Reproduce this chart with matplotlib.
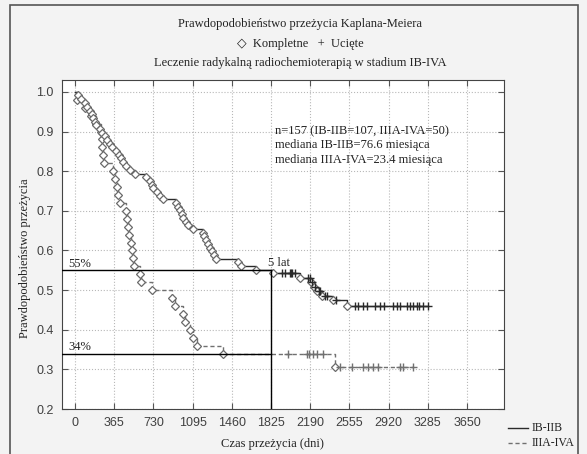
import matplotlib
matplotlib.use('Agg')
import matplotlib.pyplot as plt
import numpy as np

# IB-IIB: event times (days) and survival after each event
ib_event_t = [28, 60, 93, 115, 140, 155, 170, 186, 200, 233, 250, 279, 300, 326, 350,
              382, 410, 428, 450, 475, 510, 559,
              661, 698, 717, 726, 760, 791, 819,
              940, 960, 978, 995, 1006, 1030, 1052, 1099,
              1192, 1205, 1222, 1240, 1258, 1275, 1295, 1313,
              1518, 1546, 1685, 1840,
              2095, 2200, 2225, 2250, 2300, 2400, 2533]
ib_event_s = [0.991, 0.981, 0.972, 0.963, 0.953, 0.944, 0.935, 0.925, 0.916, 0.907, 0.897,
              0.888, 0.879, 0.869, 0.860, 0.851, 0.841, 0.832, 0.822, 0.813, 0.804, 0.794,
              0.785, 0.776, 0.766, 0.757, 0.748, 0.738, 0.729,
              0.720, 0.710, 0.701, 0.692, 0.682, 0.673, 0.664, 0.654,
              0.645, 0.636, 0.626, 0.617, 0.607, 0.598, 0.589, 0.579,
              0.570, 0.561, 0.551, 0.542,
              0.531, 0.520, 0.509, 0.498, 0.486, 0.474, 0.460]
ib_cens_t = [1927, 1955, 2005, 2015, 2025, 2050, 2170, 2188, 2210, 2240, 2270, 2285,
             2330, 2350, 2430, 2607, 2638, 2685, 2716, 2793, 2840, 2877, 2964, 2995,
             3026, 3088, 3119, 3150, 3181, 3205, 3243, 3290]

# IIIA-IVA
iv_event_t = [20, 90, 150, 200, 242, 250, 256, 262, 270, 354, 372, 391, 400, 419,
              478, 488, 497, 508, 520, 530, 545, 552, 608, 615, 717, 903, 931,
              1006, 1024, 1071, 1099, 1136, 1380, 2421]
iv_event_s = [0.98, 0.96, 0.94, 0.92, 0.90, 0.88, 0.86, 0.84, 0.82, 0.80, 0.78, 0.76,
              0.74, 0.72, 0.70, 0.68, 0.66, 0.64, 0.62, 0.60, 0.58, 0.56, 0.54, 0.52,
              0.50, 0.48, 0.46, 0.44, 0.42, 0.40, 0.38, 0.36, 0.34, 0.306]
iv_cens_t = [1983, 2160, 2179, 2216, 2253, 2309, 2467, 2576, 2685, 2731, 2778, 2824,
             3026, 3057, 3150]

xticks = [0, 365, 730, 1095, 1460, 1825, 2190, 2555, 2920, 3285, 3650]
yticks = [0.2, 0.3, 0.4, 0.5, 0.6, 0.7, 0.8, 0.9, 1.0]

SERIF = ['Liberation Serif', 'DejaVu Serif']


def level_at(ev_t, ev_s, t):
    i = np.searchsorted(ev_t, t, side='right') - 1
    return 1.0 if i < 0 else ev_s[i]


def draw_km(ax, ev_t, ev_s, cens_t, color, ls, cens_color):
    end = max(cens_t[-1], ev_t[-1])
    xs = [0] + list(ev_t) + [end]
    ys = [1.0] + list(ev_s) + [ev_s[-1]]
    ax.plot(xs, ys, drawstyle='steps-post', color=color, ls=ls, lw=1.0, zorder=3)
    ax.plot(ev_t, ev_s, ls='none', marker='D', ms=4.0, mfc='white', mec='#6a6a6a',
            mew=0.9, zorder=4)
    cs = [level_at(ev_t, ev_s, t) for t in cens_t]
    ax.plot(cens_t, cs, ls='none', marker='+', ms=6, mew=1.0, color=cens_color, zorder=4)


fig = plt.figure(figsize=(5.87, 4.54), dpi=100)
fig.patch.set_facecolor('#f3f3f3')
fig.add_artist(plt.Rectangle((10 / 587, -0.01), 568 / 587, 1 - 5 / 454 + 0.01,
                             transform=fig.transFigure, fill=False, ec='#555555', lw=1.2))

ax = fig.add_axes([62 / 587, 1 - 409 / 454, 442 / 587, 329 / 454])
ax.set_facecolor('white')
ax.set_xlim(-120, 3995)
ax.set_ylim(0.2, 1.03)
ax.set_xticks(xticks)
ax.set_yticks(yticks)
ax.set_yticklabels([f'{v:.1f}' for v in yticks])
ax.tick_params(direction='in', top=True, right=True, length=4, color='#555555',
               labelsize=9, labelcolor='#404040', pad=6)
for lab in ax.get_xticklabels() + ax.get_yticklabels():
    lab.set_fontfamily('Liberation Sans')
ax.grid(True, ls=':', color='#b8b8b8', lw=0.8)
for sp in ax.spines.values():
    sp.set_color('#444444')

# reference lines
ax.plot([-120, 1825], [0.55, 0.55], color='black', lw=1.0, zorder=5)
ax.plot([1825, 1825], [0.2, 0.55], color='black', lw=1.0, zorder=5)
ax.plot([-120, 1825], [0.34, 0.34], color='black', lw=1.0, zorder=5)

draw_km(ax, iv_event_t, iv_event_s, iv_cens_t, '#707070', (0, (3, 2)), '#707070')
draw_km(ax, ib_event_t, ib_event_s, ib_cens_t, '#2a2a2a', '-', '#2a2a2a')

ax.text(-65, 0.558, '55%', fontsize=9, family=SERIF, color='#222222')
ax.text(-65, 0.348, '34%', fontsize=9, family=SERIF, color='#222222')
ax.text(1800, 0.560, '5 lat', fontsize=9, family=SERIF, color='#222222')
ax.text(1862, 0.865, 'n=157 (IB-IIB=107, IIIA-IVA=50)\nmediana IB-IIB=76.6 miesiąca\n'
        'mediana IIIA-IVA=23.4 miesiąca', fontsize=9, family=SERIF, color='#222222',
        va='center', linespacing=1.25)

fig.text(300 / 587, 1 - 24 / 454, 'Prawdopodobieństwo przeżycia Kaplana-Meiera',
         ha='center', va='center', fontsize=9, family=SERIF, color='#222222')
fig.text(300 / 587, 1 - 44 / 454, '◇  Kompletne   +  Ucięte',
         ha='center', va='center', fontsize=9, family=SERIF + ['DejaVu Sans'], color='#222222')
fig.text(300 / 587, 1 - 63 / 454, 'Leczenie radykalną radiochemioterapią w stadium IB-IVA',
         ha='center', va='center', fontsize=9, family=SERIF, color='#222222')
fig.text(272 / 587, 1 - 444 / 454, 'Czas przeżycia (dni)', ha='center', va='center',
         fontsize=9, family=SERIF, color='#222222')
fig.text(25 / 587, 1 - 258 / 454, 'Prawdopodobieństwo przeżycia', ha='center', va='center',
         rotation=90, fontsize=9, family=SERIF, color='#222222')

# legend
fig.add_artist(plt.Line2D([508 / 587, 528 / 587], [1 - 428 / 454] * 2, color='#2a2a2a',
                          lw=1.0, transform=fig.transFigure))
fig.add_artist(plt.Line2D([508 / 587, 528 / 587], [1 - 443 / 454] * 2, color='#707070',
                          lw=1.0, ls=(0, (3, 2)), transform=fig.transFigure))
fig.text(532 / 587, 1 - 428 / 454, 'IB-IIB', va='center', fontsize=8.5, family=SERIF,
         color='#222222')
fig.text(532 / 587, 1 - 443 / 454, 'IIIA-IVA', va='center', fontsize=8.5, family=SERIF,
         color='#222222')

fig.savefig('out.png', dpi=100, facecolor=fig.get_facecolor())
